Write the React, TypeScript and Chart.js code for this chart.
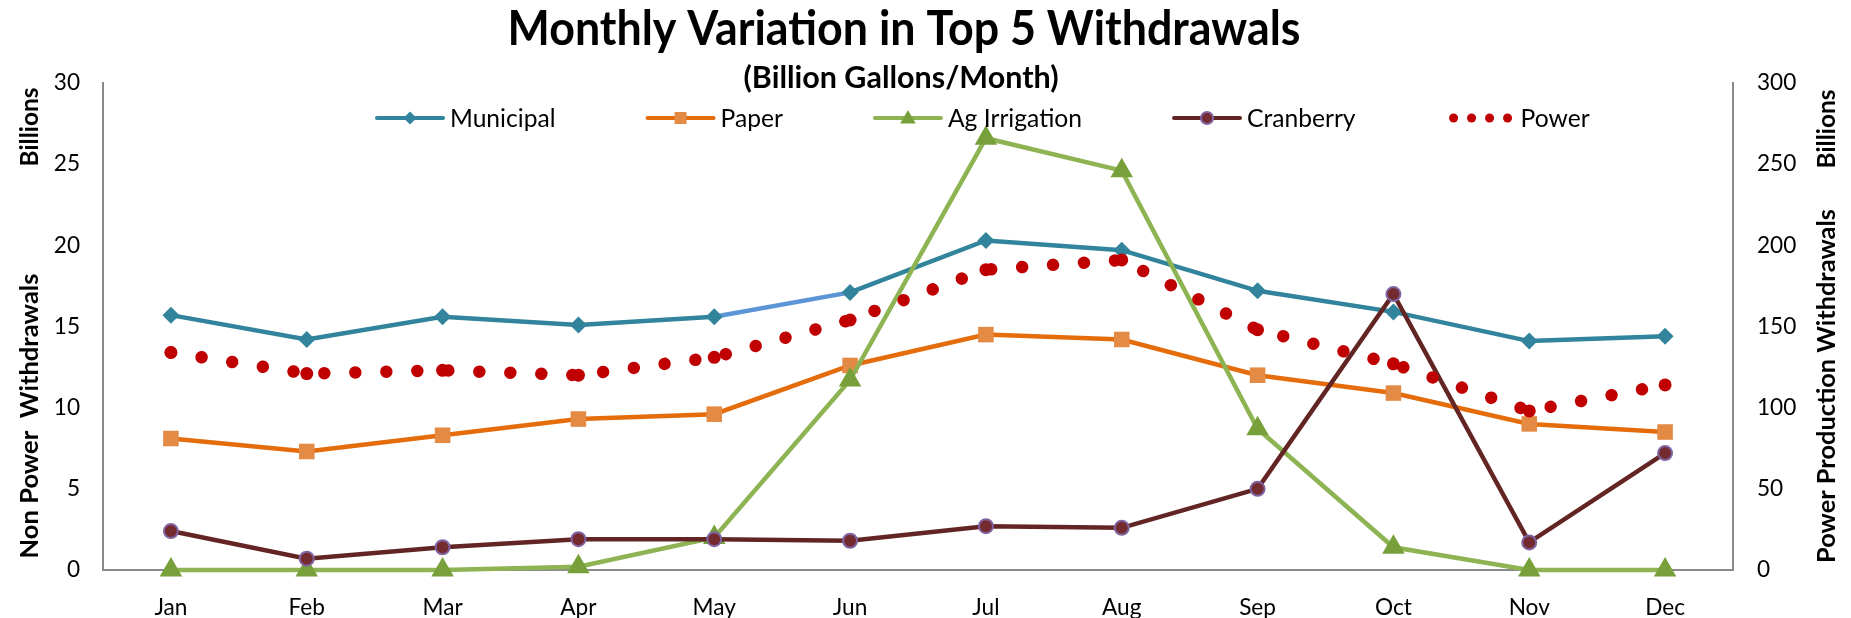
import React, { useEffect, useRef } from 'react';
import { Chart, registerables } from 'chart.js';

Chart.register(...registerables);

// ---------- data ----------
const months = ['Jan', 'Feb', 'Mar', 'Apr', 'May', 'Jun', 'Jul', 'Aug', 'Sep', 'Oct', 'Nov', 'Dec'];
const municipal = [15.7, 14.2, 15.6, 15.1, 15.6, 17.1, 20.3, 19.7, 17.2, 15.9, 14.1, 14.4];
const paper = [8.1, 7.3, 8.3, 9.3, 9.6, 12.6, 14.5, 14.2, 12.0, 10.9, 9.0, 8.5];
const agIrrigation = [0, 0, 0, 0.2, 2.0, 11.7, 26.6, 24.6, 8.7, 1.4, 0, 0];
const cranberry = [2.4, 0.7, 1.4, 1.9, 1.9, 1.8, 2.7, 2.6, 5.0, 17.0, 1.7, 7.2];
const power = [134, 121, 123, 120, 131, 154, 185, 191, 148, 127, 98, 114];

const leftAxis = { min: 0, max: 30, step: 5 };
const rightAxis = { min: 0, max: 300, step: 50 };

const titleText = 'Monthly Variation in Top 5 Withdrawals';
const subtitleText = '(Billion Gallons/Month)';
const leftUnit = 'Billions';
const leftTitle = 'Non Power  Withdrawals';
const rightUnit = 'Billions';
const rightTitle = 'Power Production Withdrawals';

// ---------- styles ----------
const FAMILY = "Lato, 'Open Sans', sans-serif";
const C = {
  municipal: '#31849B',
  municipalAlt: '#5B95D6',
  paper: '#E46C0A',
  paperMarker: '#E38A45',
  ag: '#8DB352',
  agMarker: '#77A03A',
  cran: '#632523',
  cranMarker: '#742B2F',
  cranBorder: '#8064A2',
  power: '#C00000',
  axis: '#8A8A8A',
};

const M = 8; // body margin offset (page coords -> canvas coords)
const W = 1835;
const H = 610;

function fitSize(text: string, weight: string, target: number) {
  const c = document.createElement('canvas').getContext('2d')!;
  c.font = `${weight} 100px ${FAMILY}`;
  return (100 * target) / c.measureText(text).width;
}

type MarkerKind = 'diamond' | 'square' | 'triangle' | 'circle';

function drawMarker(ctx: CanvasRenderingContext2D, kind: MarkerKind, x: number, y: number, r: number, fill: string, stroke?: string, sw = 0) {
  ctx.beginPath();
  if (kind === 'diamond') {
    ctx.moveTo(x, y - r); ctx.lineTo(x + r, y); ctx.lineTo(x, y + r); ctx.lineTo(x - r, y); ctx.closePath();
  } else if (kind === 'square') {
    ctx.rect(x - r, y - r, 2 * r, 2 * r);
  } else if (kind === 'triangle') {
    ctx.moveTo(x, y - r); ctx.lineTo(x + r * 0.866, y + r / 2); ctx.lineTo(x - r * 0.866, y + r / 2); ctx.closePath();
  } else {
    ctx.arc(x, y, r, 0, Math.PI * 2);
  }
  ctx.fillStyle = fill;
  ctx.fill();
  if (stroke && sw > 0) { ctx.strokeStyle = stroke; ctx.lineWidth = sw; ctx.stroke(); }
}

export default function App() {
  const ref = useRef<HTMLCanvasElement | null>(null);

  useEffect(() => {
    if (!ref.current) return;
    const titleStretch = 1.08;
    const titleSize = fitSize(titleText, 'bold', 793) * titleStretch;
    const subSize = fitSize(subtitleText, 'bold', 315);
    const axisTitleSize = fitSize(rightTitle, 'bold', 354);
    const leftTitleSize = fitSize(leftTitle, 'bold', 285);
    const unitSize = fitSize(leftUnit, 'bold', 79);
    const legendSize = fitSize('MunicipalPaperAg IrrigationCranberryPower', 'normal', 478);
    const tickSize = fitSize('Jan', 'normal', 33);

    const legendItems: { label: string; color: string; width: number; marker: MarkerKind | 'dots'; mfill: string; mstroke?: string; r: number }[] = [
      { label: 'Municipal', color: C.municipal, width: 4, marker: 'diamond', mfill: C.municipal, r: 6.5 },
      { label: 'Paper', color: C.paper, width: 4, marker: 'square', mfill: C.paperMarker, r: 6 },
      { label: 'Ag Irrigation', color: C.ag, width: 4, marker: 'triangle', mfill: C.agMarker, r: 9 },
      { label: 'Cranberry', color: C.cran, width: 4, marker: 'circle', mfill: C.cranMarker, mstroke: C.cranBorder, r: 6 },
      { label: 'Power', color: C.power, width: 0, marker: 'dots', mfill: C.power, r: 4.5 },
    ];

    const decor = {
      id: 'decor',
      afterDraw(chart: any) {
        const ctx: CanvasRenderingContext2D = chart.ctx;
        ctx.save();
        ctx.fillStyle = '#000';
        ctx.textAlign = 'center';
        ctx.textBaseline = 'alphabetic';
        // title: slightly condensed to match the narrow original face
        ctx.save();
        ctx.translate(904 - M, 45 - M);
        ctx.scale(1 / titleStretch, 1);
        ctx.font = `bold ${titleSize}px ${FAMILY}`;
        ctx.fillText(titleText, 0, 0);
        ctx.restore();
        ctx.font = `bold ${subSize}px ${FAMILY}`;
        ctx.fillText(subtitleText, 901 - M, 88 - M);

        // axis titles (rotated)
        const rot = (text: string, size: number, cx: number, cy: number) => {
          ctx.save();
          ctx.font = `bold ${size}px ${FAMILY}`;
          ctx.translate(cx + (size * 0.72) / 2, cy);
          ctx.rotate(-Math.PI / 2);
          ctx.textAlign = 'center';
          ctx.fillText(text, 0, 0);
          ctx.restore();
        };
        rot(leftUnit, unitSize, 29 - M, 127 - M);
        rot(leftTitle, leftTitleSize, 29 - M, 416 - M);
        rot(rightUnit, unitSize, 1826 - M, 129 - M);
        rot(rightTitle, axisTitleSize, 1826 - M, 386 - M);

        // legend
        let x = 375 - M;
        const ly = 118 - M;
        ctx.font = `${legendSize}px ${FAMILY}`;
        ctx.textAlign = 'left';
        for (const it of legendItems) {
          const lineLen = 70;
          if (it.marker === 'dots') {
            for (let k = 0; k < 4; k++) drawMarker(ctx, 'circle', x + 8 + k * 18, ly, it.r, it.mfill);
          } else {
            ctx.beginPath();
            ctx.strokeStyle = it.color;
            ctx.lineWidth = it.width;
            ctx.lineCap = 'round';
            ctx.moveTo(x + 2, ly);
            ctx.lineTo(x + lineLen - 2, ly);
            ctx.stroke();
            drawMarker(ctx, it.marker, x + lineLen / 2, ly + (it.marker === 'triangle' ? 1 : 0), it.r, it.mfill, it.mstroke, it.mstroke ? 2 : 0);
          }
          const tx = x + lineLen + 5;
          ctx.fillStyle = '#000';
          ctx.fillText(it.label, tx, ly + legendSize * 0.36);
          x = tx + ctx.measureText(it.label).width + 90;
        }
        ctx.restore();
      },
    };

    const tickFont = { family: FAMILY, size: tickSize };
    const border = { display: true, color: C.axis, width: 2 };
    const grid = { display: true, drawOnChartArea: false, drawTicks: false };

    const chart = new Chart(ref.current, {
      type: 'line',
      data: {
        labels: months,
        datasets: [
          {
            label: 'Municipal', data: municipal, yAxisID: 'y', order: 5, clip: false,
            borderColor: C.municipal, backgroundColor: C.municipal, borderWidth: 4.5,
            pointStyle: 'rectRot', pointRadius: 8.5, pointBorderWidth: 0, pointBackgroundColor: C.municipal,
            segment: { borderColor: (c: any) => (c.p0DataIndex === 4 ? C.municipalAlt : undefined) },
          },
          {
            label: 'Paper', data: paper, yAxisID: 'y', order: 4, clip: false,
            borderColor: C.paper, backgroundColor: C.paper, borderWidth: 4.5,
            pointStyle: 'rect', pointRadius: 11, pointBorderWidth: 0, pointBackgroundColor: C.paperMarker,
          },
          {
            label: 'Ag Irrigation', data: agIrrigation, yAxisID: 'y', order: 3, clip: false,
            borderColor: C.ag, backgroundColor: C.ag, borderWidth: 4.5,
            pointStyle: 'triangle', pointRadius: 13, pointBorderWidth: 0, pointBackgroundColor: C.agMarker,
          },
          {
            label: 'Cranberry', data: cranberry, yAxisID: 'y', order: 2, clip: false,
            borderColor: C.cran, backgroundColor: C.cran, borderWidth: 4.5,
            pointStyle: 'circle', pointRadius: 7, pointBorderWidth: 2, pointBackgroundColor: C.cranMarker, pointBorderColor: C.cranBorder,
          },
          {
            label: 'Power', data: power, yAxisID: 'y1', order: 1, clip: false,
            borderColor: C.power, backgroundColor: C.power, borderWidth: 12.5,
            borderDash: [0.01, 31], borderCapStyle: 'round',
            pointStyle: 'circle', pointRadius: 6.5, pointBorderWidth: 0, pointBackgroundColor: C.power,
          },
        ] as any,
      },
      options: {
        animation: false,
        responsive: false,
        events: [],
        layout: { padding: { top: 83 - M, left: 0, right: 0, bottom: 0 } },
        plugins: { legend: { display: false }, title: { display: false }, tooltip: { enabled: false } },
        scales: {
          x: {
            type: 'category', offset: true, grid, border,
            ticks: { font: tickFont, color: '#000', padding: 24, maxRotation: 0, autoSkip: false },
            afterFit: (s: any) => { s.height = H - (570 - M); },
          },
          y: {
            position: 'left', min: leftAxis.min, max: leftAxis.max, grid, border,
            ticks: { stepSize: leftAxis.step, font: tickFont, color: '#000', padding: 23 },
            afterFit: (s: any) => { s.width = 103 - M; },
          },
          y1: {
            position: 'right', min: rightAxis.min, max: rightAxis.max, grid, border,
            ticks: { stepSize: rightAxis.step, font: tickFont, color: '#000', padding: 24 },
            afterFit: (s: any) => { s.width = W - (1733 - M); },
          },
        } as any,
      },
      plugins: [decor],
    });
    return () => chart.destroy();
  }, []);

  return (
    <div style={{ width: W, height: H }}>
      <canvas ref={ref} width={W} height={H} style={{ width: W, height: H, display: 'block' }} />
    </div>
  );
}
